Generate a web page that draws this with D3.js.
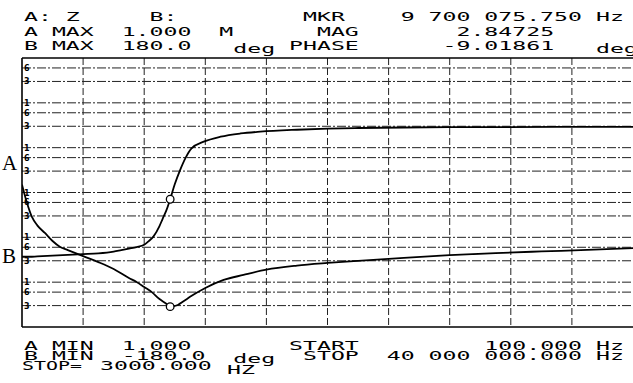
<!DOCTYPE html>
<html>
<head>
<meta charset="utf-8">
<script src="https://cdn.jsdelivr.net/npm/d3@7"></script>
<style>
body { margin: 0; background: #fff; }
svg { display: block; }
</style>
</head>
<body>
<div id="main"></div>
<script>
// trace A : |Z| (ohm), frequency in MHz
var magFreq = [0.0001, 0.3, 0.65, 1.0, 1.5, 2.0, 2.5, 3.0, 4.0, 5.0, 6.0, 7.0, 7.5, 8.0, 8.5, 9.0, 9.4, 9.7, 10.2, 10.6, 11.0, 12.0, 13.2, 14.5, 16.0, 18.0, 20.0, 22.0, 25.0, 28.0, 31.0, 34.0, 37.0, 40.0];
var magA = [1500, 630, 285, 185, 125, 83, 61, 52, 38, 28, 19.7, 12.4, 10.1, 7.8, 6.0, 4.2, 3.4, 2.85, 3.1, 3.8, 4.7, 7.4, 11.2, 14.5, 19, 23.4, 26.8, 30, 35, 40, 44.6, 48.5, 52.4, 57.6];

// trace B : phase (deg), frequency in MHz
var phaseFreq = [0.0001, 0.5, 1, 2, 3, 4, 5, 6, 6.5, 7, 7.5, 8, 8.3, 8.6, 9.0, 9.2, 9.45, 9.7, 10.0, 10.35, 10.7, 11.1, 11.9, 13.0, 14.3, 15.6, 18, 20, 22, 25, 30, 35, 40];
var phaseB = [-86, -86, -85.5, -84.5, -83.5, -82.5, -81.4, -79, -77, -75, -73, -70, -65, -59, -45, -35.5, -24, -9, 11, 30, 46, 59, 68, 74.7, 79, 81.4, 84, 85.5, 86.3, 87, 87.5, 87.7, 87.7];

// scale settings and marker readout
var startHz = 100, stopHz = 40000000;
var aMin = 1, aMax = 1000000;
var bMin = -180, bMax = 180;
var mkrHz = 9700075.75, mkrMag = 2.84725, mkrPhase = -9.01861;

// log grid lines inside each decade, and their little labels
var gridMult = [1, 0.6, 0.3];
var gridLab = ["1", "6", "3"];

var W = 633, H = 383;
var plot = {left: 22, right: 633, top: 58, bottom: 327};

var svg = d3.select("#main")
  .append("svg")
    .attr("width", W)
    .attr("height", H);

var x = d3.scaleLinear().domain([startHz, stopHz]).range([plot.left, plot.right]);
var yA = d3.scaleLog().domain([aMin, aMax]).range([plot.bottom, plot.top]);
var yB = d3.scaleLinear().domain([bMin, bMax]).range([plot.bottom, plot.top]);

svg.append("clipPath").attr("id", "clip")
  .append("rect")
    .attr("x", plot.left).attr("y", plot.top - 1)
    .attr("width", plot.right - plot.left).attr("height", plot.bottom - plot.top + 2);

var grid = svg.append("g");

// horizontal grid (log magnitude)
var hLines = [];
d3.range(1, 7).forEach(function(k) {
  gridMult.forEach(function(m, i) {
    hLines.push({v: Math.pow(10, k) * m, lab: gridLab[i], k: k});
  });
});
hLines = hLines.filter(function(d) { return d.v < aMax; });

grid.selectAll(".hl")
  .data(hLines)
  .enter().append("line")
    .attr("x1", plot.left).attr("x2", plot.right)
    .attr("y1", function(d) { return yA(d.v); })
    .attr("y2", function(d) { return yA(d.v); })
    .style("stroke", "#222")
    .style("stroke-width", 1)
    .style("stroke-dasharray", "9,2,2,2");

grid.selectAll(".hlab")
  .data(hLines)
  .enter().append("text")
    .attr("x", plot.left + 2)
    .attr("y", function(d) { return yA(d.v) + 3; })
    .attr("font-family", "DejaVu Sans")
    .attr("font-weight", "bold")
    .attr("font-size", 8)
    .text(function(d) { return d.lab; });

// vertical grid (10 divisions)
var vLines = d3.range(1, 10).map(function(i) { return startHz + i * (stopHz - startHz) / 10; });
grid.selectAll(".vl")
  .data(vLines)
  .enter().append("line")
    .attr("x1", function(d) { return x(d); })
    .attr("x2", function(d) { return x(d); })
    .attr("y1", plot.top).attr("y2", plot.bottom)
    .style("stroke", "#222")
    .style("stroke-width", 1)
    .style("stroke-dasharray", "7,3");

// frame
svg.append("line")
  .attr("x1", plot.left).attr("x2", plot.left)
  .attr("y1", plot.top).attr("y2", plot.bottom)
  .style("stroke", "#000").style("stroke-width", 1.6);
svg.append("line")
  .attr("x1", plot.left).attr("x2", plot.right)
  .attr("y1", plot.top).attr("y2", plot.top)
  .style("stroke", "#000").style("stroke-width", 1.3);
svg.append("line")
  .attr("x1", plot.left).attr("x2", plot.right)
  .attr("y1", plot.bottom).attr("y2", plot.bottom)
  .style("stroke", "#000").style("stroke-width", 1.3);

// traces
var traces = svg.append("g").attr("clip-path", "url(#clip)");

var magData = magFreq.map(function(f, i) { return {f: f * 1e6, v: Math.min(magA[i], aMax)}; });
var phData = phaseFreq.map(function(f, i) { return {f: f * 1e6, v: phaseB[i]}; });

traces.append("path")
  .datum(magData)
  .attr("fill", "none")
  .attr("stroke", "#000")
  .attr("stroke-width", 1.8)
  .attr("d", d3.line()
    .x(function(d) { return x(Math.max(d.f, startHz)); })
    .y(function(d) { return yA(d.v); })
    .curve(d3.curveMonotoneX));

traces.append("path")
  .datum(phData)
  .attr("fill", "none")
  .attr("stroke", "#000")
  .attr("stroke-width", 1.8)
  .attr("d", d3.line()
    .x(function(d) { return x(Math.max(d.f, startHz)); })
    .y(function(d) { return yB(d.v); })
    .curve(d3.curveMonotoneX));

// marker circles
svg.append("circle")
  .attr("cx", x(mkrHz)).attr("cy", yA(mkrMag)).attr("r", 3.8)
  .attr("fill", "#fff").attr("stroke", "#000").attr("stroke-width", 1.3);
svg.append("circle")
  .attr("cx", x(mkrHz)).attr("cy", yB(mkrPhase)).attr("r", 3.8)
  .attr("fill", "#fff").attr("stroke", "#000").attr("stroke-width", 1.3);

// A / B reference letters
svg.append("text").attr("x", 2).attr("y", 170)
  .attr("font-family", "Liberation Serif").attr("font-size", 21).text("A");
svg.append("text").attr("x", 2).attr("y", 263)
  .attr("font-family", "Liberation Serif").attr("font-size", 21).text("B");

// annotation text, plotter style: monospace stretched onto a fixed column grid
var pitch = 13.95, col0 = 24, fs = 12.4;
var sx = pitch / (0.602 * fs);
function col(c) { return col0 + c * pitch; }
function say(str, xx, yy, s) {
  svg.append("text")
    .attr("transform", "translate(" + xx + "," + yy + ") scale(" + (s || sx) + ",1)")
    .attr("font-family", "DejaVu Sans Mono")
    .attr("font-size", fs)
    .style("white-space", "pre")
    .text(str);
}

say("A:", col(0), 21);
say("Z", col(3), 21);
say("B:", col(9), 21);
say("MKR", col(20), 21);
say("9 700 075.750", col(27), 21);
say("Hz", col(41), 21);

say("A MAX", col(0), 36);
say("1.000", col(7), 36);
say("M", col(14), 36);
say("MAG", col(21), 36);
say("2.84725", col(31), 36);

say("B MAX", col(0), 50);
say("180.0", col(7), 50);
say("deg", col(15), 53);
say("PHASE", col(19), 50);
say("-9.01861", col(30), 50);
say("deg", col(41), 53);

say("A MIN", col(0), 350);
say("1.000", col(7), 350);
say("START", col(19), 350);
say("100.000", col(33), 350);
say("Hz", col(41), 350);

say("B MIN", col(0), 360);
say("-180.0", col(7), 360);
say("deg", col(15), 363);
say("STOP", col(20), 360);
say("40 000 000.000", col(26), 360);
say("Hz", col(41), 360);

say("STOP=", 22, 370, sx * 0.86);
say("3000.000", 100, 370);
say("HZ", 227, 374);
</script>
</body>
</html>
